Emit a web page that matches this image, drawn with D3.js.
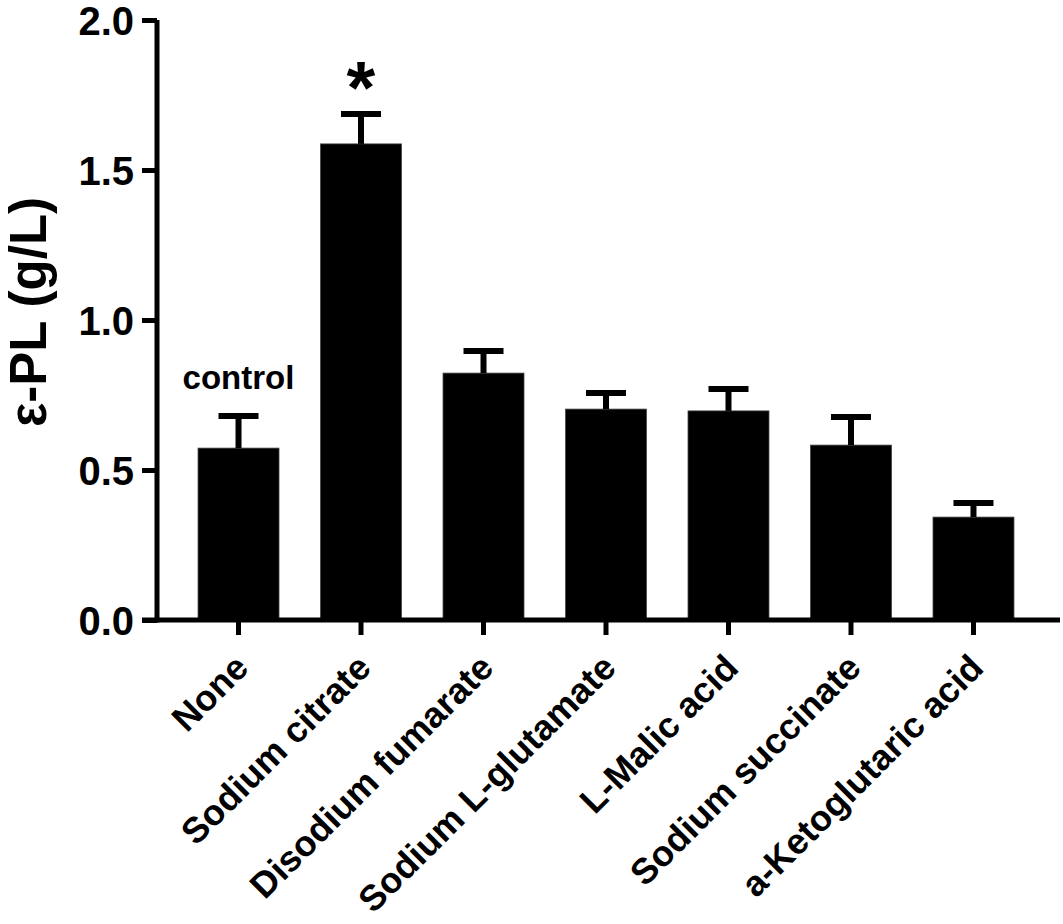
<!DOCTYPE html>
<html>
<head>
<meta charset="utf-8">
<script src="https://cdn.jsdelivr.net/npm/d3@7"></script>
<style>
    body { margin: 0; background: #fff; }
    text { font-family: "Liberation Sans", Arial, sans-serif; font-weight: bold; fill: #000; }
</style>
</head>
<body>
<svg id="chart" width="1063" height="924"></svg>
<script>
const categories = ["None", "Sodium citrate", "Disodium fumarate", "Sodium L-glutamate",
    "L-Malic acid", "Sodium succinate", "a-Ketoglutaric acid"];
const means = [0.573, 1.587, 0.823, 0.703, 0.697, 0.583, 0.343];
const errors = [0.107, 0.100, 0.074, 0.054, 0.073, 0.094, 0.047];
const yTicks = [0, 0.5, 1.0, 1.5, 2.0];
const annotations = [
    { index: 0, text: "control" },
    { index: 1, text: "*" }
];

const svg = d3.select("#chart");
const margin = { left: 157, right: 8, top: 20, bottom: 304 };
const width = 1063, height = 924;

const x = d3.scaleBand()
    .domain(categories)
    .range([margin.left, 1055])
    .paddingInner(0.339)
    .paddingOuter(0.335);

const y = d3.scaleLinear()
    .domain([0, 2.0])
    .range([height - margin.bottom, margin.top]);

// bars
svg.append("g")
    .selectAll("rect")
    .data(means)
    .join("rect")
    .attr("x", (d, i) => x(categories[i]))
    .attr("y", d => y(d))
    .attr("width", x.bandwidth())
    .attr("height", d => y(0) - y(d))
    .attr("fill", "#000")
    .attr("stroke", "#444")
    .attr("stroke-width", 0.8);

// error bars (upper only)
const errG = svg.append("g").attr("stroke", "#000").attr("stroke-width", 6);
means.forEach((m, i) => {
    const cx = x(categories[i]) + x.bandwidth() / 2;
    errG.append("line")
        .attr("x1", cx).attr("x2", cx)
        .attr("y1", y(m)).attr("y2", y(m + errors[i]));
    errG.append("line")
        .attr("x1", cx - 20).attr("x2", cx + 20)
        .attr("y1", y(m + errors[i])).attr("y2", y(m + errors[i]));
});

// y axis
const yAxis = svg.append("g")
    .attr("transform", `translate(${margin.left},0)`)
    .call(d3.axisLeft(y).tickValues(yTicks).tickFormat(d3.format(".1f")).tickSize(15).tickPadding(8));
yAxis.select(".domain").attr("stroke-width", 5).attr("d", `M0,${y(2.0)}V${y(0) + 2.5}`);
yAxis.selectAll(".tick line").attr("stroke-width", 5);
yAxis.selectAll(".tick text").style("font-size", "40px").attr("dy", "0.36em");

// x axis
const xAxis = svg.append("g")
    .attr("transform", `translate(0,${y(0)})`)
    .call(d3.axisBottom(x).tickSize(15).tickSizeOuter(0));
xAxis.select(".domain").attr("stroke-width", 5).attr("d", `M${margin.left - 15},0H1060`);
xAxis.selectAll(".tick line").attr("stroke-width", 5);
xAxis.selectAll(".tick text")
    .style("font-size", "36px")
    .attr("text-anchor", "end")
    .attr("y", 0)
    .attr("dy", "0.35em")
    .attr("transform", "translate(3,41) rotate(-45)");

// y axis title
svg.append("text")
    .attr("transform", `translate(46,312) rotate(-90)`)
    .attr("text-anchor", "middle")
    .style("font-size", "51px")
    .text("ε-PL (g/L)");

// annotations above bars
annotations.forEach(a => {
    const cx = x(categories[a.index]) + x.bandwidth() / 2;
    const top = y(means[a.index] + errors[a.index]);
    if (a.text === "*") {
        svg.append("text")
            .attr("x", cx).attr("y", top - 1)
            .attr("text-anchor", "middle")
            .style("font-size", "74px")
            .text(a.text);
    } else {
        svg.append("text")
            .attr("x", cx).attr("y", top - 27)
            .attr("text-anchor", "middle")
            .style("font-size", "33px")
            .text(a.text);
    }
});
</script>
</body>
</html>
